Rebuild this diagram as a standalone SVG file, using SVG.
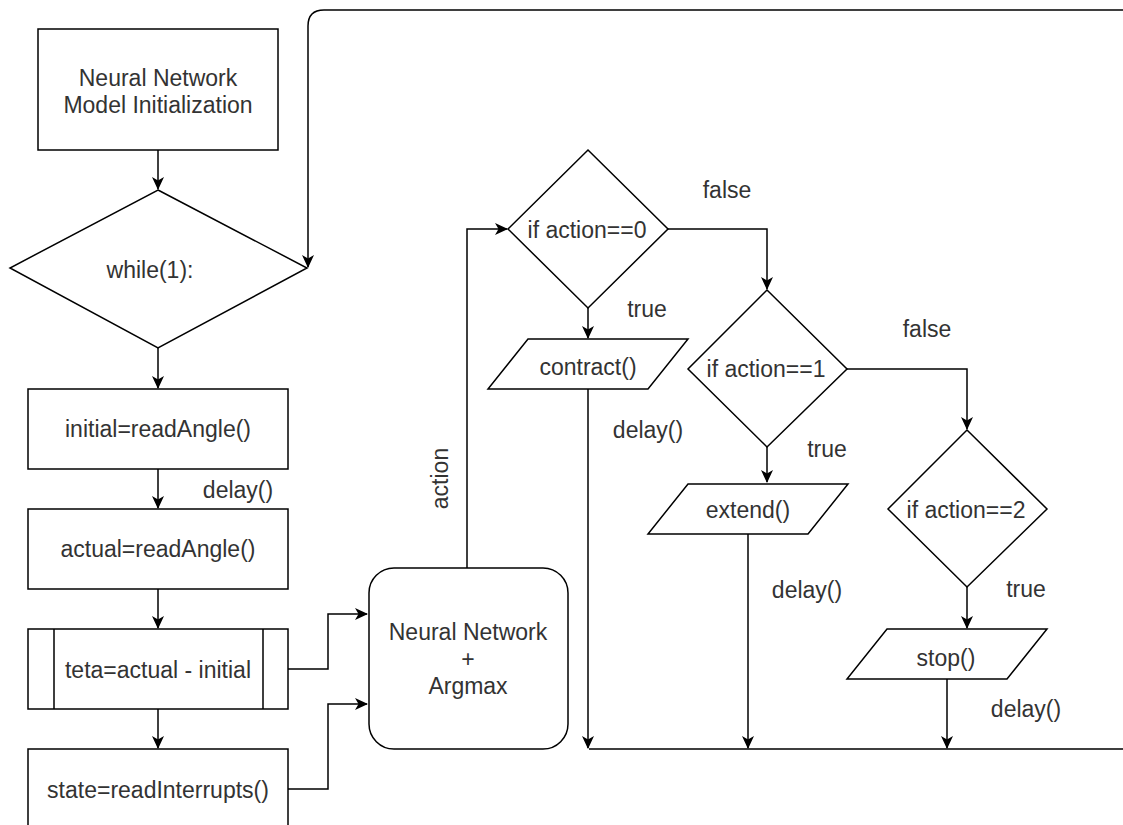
<svg xmlns="http://www.w3.org/2000/svg" width="1123" height="825" viewBox="0 0 1123 825">
<defs>
<style>
.s{fill:#fff;stroke:#000;stroke-width:1.5}
.c{fill:none;stroke:#000;stroke-width:1.5}
text{font-family:"Liberation Sans",Arial,sans-serif;font-size:23px;fill:#333;text-anchor:middle}
</style>
<marker id="a" markerUnits="userSpaceOnUse" markerWidth="14" markerHeight="14" refX="12" refY="6.5" orient="auto" viewBox="0 0 14 13">
<path d="M0,0.5 L13,6.5 L0,12.5 L3.5,6.5 Z" fill="#000"/>
</marker>
</defs>
<rect width="1123" height="825" fill="#fff"/>
<g id="connectors">
<path class="c" d="M158,150 V189" marker-end="url(#a)"/>
<path class="c" d="M158,348 V388" marker-end="url(#a)"/>
<path class="c" d="M158,469 V508" marker-end="url(#a)"/>
<path class="c" d="M158,589 V628" marker-end="url(#a)"/>
<path class="c" d="M158,709 V748" marker-end="url(#a)"/>
<path class="c" d="M288,669 H328 V614 H367" marker-end="url(#a)"/>
<path class="c" d="M288,789 H328 V704 H367" marker-end="url(#a)"/>
<path class="c" d="M467,568 V229 H507" marker-end="url(#a)"/>
<path class="c" d="M588,308 V338" marker-end="url(#a)"/>
<path class="c" d="M668,229 H767 V289" marker-end="url(#a)"/>
<path class="c" d="M767,447 V482" marker-end="url(#a)"/>
<path class="c" d="M847,369 H967 V429" marker-end="url(#a)"/>
<path class="c" d="M967,587 V628" marker-end="url(#a)"/>
<path class="c" d="M588,389 V748" marker-end="url(#a)"/>
<path class="c" d="M748,534 V748" marker-end="url(#a)"/>
<path class="c" d="M947,679 V748" marker-end="url(#a)"/>
<path class="c" d="M589,749 H1140 V10 H324 Q308,10 308,26 V267" marker-end="url(#a)"/>
<text x="238" y="498">delay()</text>
<text transform="translate(448,478.5) rotate(-90)">action</text>
<text x="727" y="198">false</text>
<text x="647" y="317">true</text>
<text x="648" y="438">delay()</text>
<text x="927" y="337">false</text>
<text x="827" y="457">true</text>
<text x="807" y="598">delay()</text>
<text x="1026" y="597">true</text>
<text x="1026" y="717">delay()</text>
</g>
<g id="init">
<rect class="s" x="38" y="29" width="240" height="121"/>
<text x="158" y="86">Neural Network</text>
<text x="158" y="113">Model Initialization</text>
</g>
<g id="while">
<polygon class="s" points="158,190 307,268 158,348 10,268"/>
<text x="150" y="278">while(1):</text>
</g>
<g id="initial">
<rect class="s" x="28" y="389" width="260" height="80"/>
<text x="158" y="437">initial=readAngle()</text>
</g>
<g id="actual">
<rect class="s" x="28" y="509" width="260" height="80"/>
<text x="158" y="557">actual=readAngle()</text>
</g>
<g id="teta">
<rect class="s" x="28" y="629" width="260" height="80"/>
<path class="c" d="M54,629 V709 M263,629 V709"/>
<text x="158" y="678">teta=actual - initial</text>
</g>
<g id="state">
<rect class="s" x="28" y="749" width="260" height="80"/>
<text x="158" y="798">state=readInterrupts()</text>
</g>
<g id="nn">
<rect class="s" x="369" y="568" width="199" height="181" rx="25" ry="25"/>
<text x="468" y="640">Neural Network</text>
<text x="468" y="667">+</text>
<text x="468" y="694">Argmax</text>
</g>
<g id="if0">
<polygon class="s" points="588,150 668,229 588,308 508,229"/>
<text x="587" y="238">if action==0</text>
</g>
<g id="contract">
<polygon class="s" points="528,339 688,339 648,389 488,389"/>
<text x="588" y="375">contract()</text>
</g>
<g id="if1">
<polygon class="s" points="767,290 847,369 767,447 688,369"/>
<text x="766" y="377">if action==1</text>
</g>
<g id="extend">
<polygon class="s" points="688,484 848,484 808,534 648,534"/>
<text x="748" y="518">extend()</text>
</g>
<g id="if2">
<polygon class="s" points="967,430 1047,509 967,587 888,509"/>
<text x="966" y="518">if action==2</text>
</g>
<g id="stop">
<polygon class="s" points="887,629 1047,629 1007,679 847,679"/>
<text x="946" y="666">stop()</text>
</g>
</svg>
